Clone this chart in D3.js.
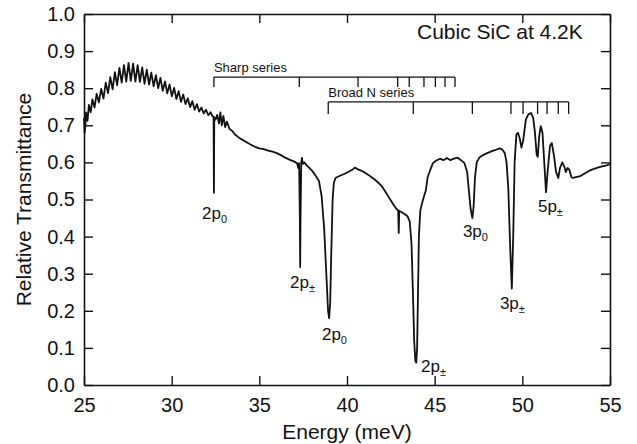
<!DOCTYPE html>
<html>
<head>
<meta charset="utf-8">
<script src="https://cdn.jsdelivr.net/npm/d3@7/dist/d3.min.js"></script>
<style>
  html, body { margin: 0; padding: 0; background: #fff; }
  svg { display: block; font-family: "Liberation Sans", Arial, Helvetica, sans-serif; }
</style>
</head>
<body>
<svg id="chart" width="637" height="444"></svg>
<script>
// ---- Data ----
const energy = [
  25.00,25.04,25.08,25.12,25.20,25.28,25.38,25.48,25.60,25.72,25.85,25.98,26.11,26.24,26.37,26.50,
  26.63,26.76,26.89,27.02,27.15,27.28,27.41,27.54,27.67,27.80,27.93,28.06,28.19,28.32,28.45,28.58,
  28.71,28.84,28.97,29.10,29.23,29.36,29.49,29.62,29.75,29.88,30.01,30.14,30.27,30.40,30.53,30.66,
  30.79,30.92,31.05,31.18,31.31,31.44,31.57,31.70,31.83,31.96,32.09,32.22,32.32,32.39,32.41,32.43,
  32.50,32.60,32.70,32.78,32.86,32.95,33.05,33.15,33.30,33.45,33.60,33.80,34.00,34.25,34.50,34.75,
  35.00,35.25,35.50,35.75,36.00,36.25,36.50,36.75,37.00,37.15,37.22,37.27,37.31,37.33,37.35,37.39,
  37.43,37.48,37.56,37.70,37.85,38.00,38.20,38.40,38.55,38.70,38.82,38.92,38.98,39.04,39.10,39.18,
  39.25,39.35,39.50,39.70,39.90,40.10,40.30,40.45,40.60,40.80,41.00,41.20,41.40,41.60,41.80,42.00,
  42.20,42.40,42.60,42.80,42.92,42.95,42.98,43.10,43.30,43.45,43.58,43.68,43.76,43.83,43.90,43.95,
  44.00,44.05,44.10,44.18,44.28,44.40,44.50,44.60,44.75,44.90,45.10,45.30,45.50,45.70,45.90,46.10,
  46.30,46.50,46.70,46.85,46.95,47.05,47.15,47.22,47.30,47.40,47.55,47.70,47.90,48.10,48.30,48.50,
  48.70,48.85,49.00,49.10,49.20,49.30,49.40,49.48,49.56,49.66,49.75,49.85,49.95,50.05,50.20,50.35,
  50.50,50.62,50.72,50.82,50.88,50.96,51.05,51.15,51.25,51.35,51.45,51.58,51.68,51.80,51.92,52.05,
  52.15,52.28,52.40,52.48,52.58,52.68,52.80,52.90,53.05,53.30,53.55,53.80,54.05,54.30,54.55,54.80,
  55.00
];
const transmittance = [
  0.720,0.680,0.700,0.735,0.712,0.755,0.735,0.770,0.748,0.785,0.762,0.798,0.772,0.815,0.787,0.830,
  0.797,0.843,0.808,0.855,0.815,0.862,0.818,0.868,0.820,0.866,0.818,0.862,0.817,0.856,0.812,0.850,
  0.810,0.842,0.805,0.835,0.800,0.828,0.793,0.818,0.786,0.810,0.778,0.801,0.771,0.792,0.763,0.783,
  0.757,0.773,0.749,0.765,0.742,0.757,0.737,0.748,0.732,0.742,0.727,0.735,0.725,0.722,0.518,0.722,
  0.715,0.728,0.705,0.735,0.700,0.725,0.695,0.710,0.690,0.685,0.676,0.668,0.662,0.655,0.648,0.642,
  0.638,0.636,0.632,0.629,0.625,0.619,0.612,0.607,0.602,0.598,0.585,0.598,0.450,0.318,0.450,0.598,
  0.612,0.596,0.600,0.592,0.585,0.578,0.565,0.550,0.510,0.420,0.300,0.200,0.180,0.220,0.350,0.500,
  0.545,0.558,0.562,0.566,0.570,0.575,0.580,0.586,0.582,0.578,0.573,0.567,0.560,0.553,0.545,0.535,
  0.520,0.505,0.490,0.476,0.470,0.410,0.470,0.466,0.460,0.455,0.440,0.380,0.250,0.120,0.065,0.060,
  0.100,0.250,0.400,0.470,0.490,0.510,0.525,0.560,0.580,0.598,0.605,0.610,0.606,0.612,0.606,0.610,
  0.613,0.606,0.598,0.575,0.525,0.475,0.450,0.480,0.560,0.600,0.613,0.618,0.623,0.627,0.631,0.634,
  0.638,0.635,0.625,0.600,0.530,0.380,0.260,0.400,0.600,0.675,0.680,0.665,0.640,0.660,0.715,0.730,
  0.733,0.720,0.680,0.620,0.615,0.670,0.698,0.680,0.600,0.520,0.580,0.645,0.652,0.620,0.575,0.558,
  0.585,0.600,0.588,0.574,0.585,0.580,0.560,0.558,0.560,0.563,0.570,0.577,0.582,0.586,0.589,0.592,
  0.595
];

const xTicks = [25, 30, 35, 40, 45, 50, 55];
const yTicks = [0.0, 0.1, 0.2, 0.3, 0.4, 0.5, 0.6, 0.7, 0.8, 0.9, 1.0];

// Line-series markers (energies in meV)
const sharpSeries = [32.41, 37.28, 40.63, 42.89, 43.55, 44.39, 45.04, 45.59, 46.16];
const broadSeries = [38.93, 43.78, 47.15, 49.35, 50.04, 50.87, 51.41, 52.05, 52.64];
const sharpLevel = 0.830;
const broadLevel = 0.763;

// Peak labels: [main text, subscript, energy of left edge, transmittance of baseline]
const peakLabels = [
  ["2p", "0", 31.73, 0.447],
  ["2p", "\u00B1", 36.75, 0.262],
  ["2p", "0", 38.57, 0.122],
  ["2p", "\u00B1", 44.22, 0.036],
  ["3p", "0", 46.61, 0.400],
  ["3p", "\u00B1", 48.72, 0.205],
  ["5p", "\u00B1", 50.89, 0.466]
];

// ---- Layout ----
const svg = d3.select("#chart");
const mLeft = 84, mRight = 610, mTop = 14, mBottom = 385;
const x = d3.scaleLinear().domain([25, 55]).range([mLeft, mRight]);
const y = d3.scaleLinear().domain([0, 1]).range([mBottom, mTop]);

const tickLen = 9;

function styleAxis(g) {
  g.select(".domain").attr("stroke", "#111").attr("stroke-width", 1.6);
  g.selectAll(".tick line").attr("stroke", "#111").attr("stroke-width", 1.4);
  g.selectAll(".tick text").attr("fill", "#111").attr("font-size", 20)
    .attr("font-family", "'Liberation Sans', Arial, Helvetica, sans-serif");
}

svg.append("g").attr("transform", `translate(0,${mBottom})`)
  .call(d3.axisBottom(x).tickValues(xTicks).tickFormat(d3.format("d"))
    .tickSizeInner(-tickLen).tickSizeOuter(0).tickPadding(13))
  .call(styleAxis);

svg.append("g").attr("transform", `translate(0,${mTop})`)
  .call(d3.axisTop(x).tickValues(xTicks).tickFormat("")
    .tickSizeInner(-tickLen).tickSizeOuter(0))
  .call(styleAxis);

svg.append("g").attr("transform", `translate(${mLeft},0)`)
  .call(d3.axisLeft(y).tickValues(yTicks).tickFormat(d3.format(".1f"))
    .tickSizeInner(-tickLen).tickSizeOuter(0).tickPadding(9))
  .call(styleAxis);

svg.append("g").attr("transform", `translate(${mRight},0)`)
  .call(d3.axisRight(y).tickValues(yTicks).tickFormat("")
    .tickSizeInner(-tickLen).tickSizeOuter(0))
  .call(styleAxis);

// Axis titles
svg.append("text")
  .attr("x", (mLeft + mRight) / 2).attr("y", 439)
  .attr("text-anchor", "middle").attr("font-size", 21).attr("fill", "#111")
  .text("Energy (meV)");

svg.append("text")
  .attr("transform", `translate(31,${(mTop + mBottom) / 2}) rotate(-90)`)
  .attr("text-anchor", "middle").attr("font-size", 21).attr("fill", "#111")
  .text("Relative Transmittance");

// Title inside plot
svg.append("text")
  .attr("x", 417).attr("y", 39)
  .attr("font-size", 21).attr("fill", "#111")
  .text("Cubic SiC at 4.2K");

// Spectrum
const data = energy.map((e, i) => [e, transmittance[i]]);
svg.append("path")
  .datum(data)
  .attr("fill", "none").attr("stroke", "#111").attr("stroke-width", 1.8)
  .attr("stroke-linejoin", "round")
  .attr("d", d3.line().x(d => x(d[0])).y(d => y(d[1])));

// Series brackets
function bracket(vals, level, label, tlen) {
  const g = svg.append("g").attr("stroke", "#111").attr("stroke-width", 1.3);
  g.append("line")
    .attr("x1", x(vals[0])).attr("x2", x(vals[vals.length - 1]))
    .attr("y1", y(level)).attr("y2", y(level));
  g.selectAll("line.t").data(vals).enter().append("line")
    .attr("class", "t")
    .attr("x1", d => x(d)).attr("x2", d => x(d))
    .attr("y1", y(level)).attr("y2", y(level) + tlen);
  svg.append("text")
    .attr("x", x(vals[0])).attr("y", y(level) - 5)
    .attr("font-size", 13).attr("fill", "#111")
    .text(label);
}
bracket(sharpSeries, sharpLevel, "Sharp series", 10);
bracket(broadSeries, broadLevel, "Broad N series", 12);

// Peak labels
peakLabels.forEach(([main, sub, e, t]) => {
  const txt = svg.append("text")
    .attr("x", x(e)).attr("y", y(t))
    .attr("font-size", 17).attr("fill", "#111");
  txt.append("tspan").text(main);
  txt.append("tspan").attr("font-size", 11).attr("dy", 4).text(sub);
});
</script>
</body>
</html>
